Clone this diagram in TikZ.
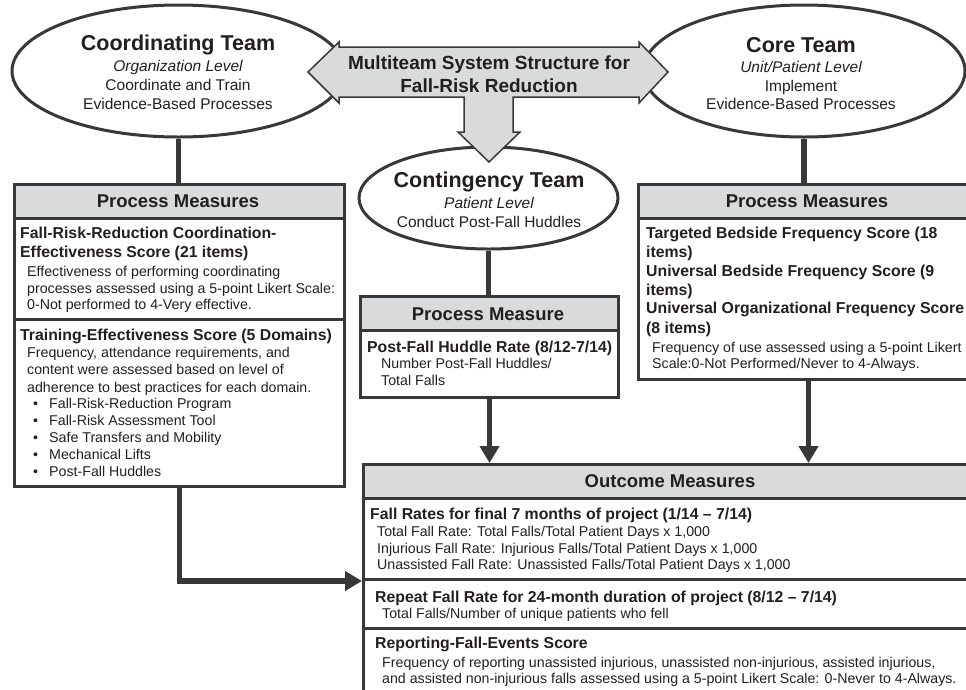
\documentclass[tikz,border=0pt]{standalone}
\usepackage{fontspec}
\setmainfont{Liberation Sans}
\usetikzlibrary{shapes.geometric,arrows.meta}
\definecolor{ink}{HTML}{231F20}
\definecolor{edge}{HTML}{38383A}
\definecolor{shade}{HTML}{D9DADB}
\tikzset{
  team/.style={draw=edge, line width=3pt, ellipse, inner sep=0pt, fill=white},
  hdrbox/.style={draw=edge, line width=3pt, fill=shade, rectangle, inner sep=0pt, anchor=north west},
  secbox/.style={draw=edge, line width=3pt, fill=white, rectangle, inner sep=0pt, anchor=north west},
  ttl/.style={font=\fontsize{21.5}{24}\selectfont\bfseries, text=ink, anchor=base, inner sep=0pt},
  sub/.style={font=\fontsize{15.5}{18}\selectfont, text=ink, anchor=base, inner sep=0pt},
  subit/.style={font=\fontsize{15.5}{18}\selectfont\itshape, text=ink, anchor=base, inner sep=0pt},
  bigtxt/.style={font=\fontsize{19}{22}\selectfont\bfseries, text=ink, anchor=base, inner sep=0pt},
  hdr/.style={font=\fontsize{18.5}{22}\selectfont\bfseries, text=ink, anchor=base, inner sep=0pt},
  head/.style={font=\fontsize{15.8}{18}\selectfont\bfseries, text=ink, anchor=base west, inner sep=0pt},
  body/.style={font=\fontsize{14.2}{17}\selectfont, text=ink, anchor=base west, inner sep=0pt},
  link/.style={draw=edge, line width=5.5pt},
  arr/.style={link, -{Triangle[length=17pt,width=19pt]}},
}
\begin{document}
\begin{tikzpicture}[x=1pt,y=-1pt]
\useasboundingbox (0,0) rectangle (966,689);
\clip (0,0) rectangle (966,689);

% team ellipses
\node[team, minimum width=333pt, minimum height=132pt] (coord) at (178.5,71) {};
\node[team, minimum width=322pt, minimum height=132pt] (core) at (804,71) {};
\node[team, minimum width=259pt, minimum height=102pt] (cont) at (488.5,198) {};

% central arrow shape
\draw[draw=edge, line width=1.5pt, fill=shade, line join=miter]
  (308,72) -- (339,42) -- (339,47) -- (639,47) -- (639,42) -- (668,72)
  -- (639,103) -- (639,97) -- (513,97) -- (513,132) -- (520,132)
  -- (489,162) -- (458,132) -- (464,132) -- (464,97) -- (339,97)
  -- (339,103) -- cycle;
\node[bigtxt] (mts1) at (489,69) {Multiteam System Structure for};
\node[bigtxt] (mts2) at (489,92) {Fall-Risk Reduction};

% team texts
\node[ttl] (c1) at (178,50) {Coordinating Team};
\node[subit] (c2) at (178,71) {Organization Level};
\node[sub] (c3) at (178,90) {Coordinate and Train};
\node[sub] (c4) at (178,109) {Evidence-Based Processes};

\node[ttl] (k1) at (801,52) {Core Team};
\node[subit] (k2) at (801,72) {Unit/Patient Level};
\node[sub] (k3) at (801,91) {Implement};
\node[sub] (k4) at (801,109) {Evidence-Based Processes};

\node[ttl] (g1) at (489,187) {Contingency Team};
\node[subit] (g2) at (489,208) {Patient Level};
\node[sub] (g3) at (489,227) {Conduct Post-Fall Huddles};

% left box
\node[hdrbox, minimum width=330pt, minimum height=34pt] (lhdr) at (13,183) {};
\node[secbox, minimum width=330pt, minimum height=101pt] (ls1) at (13,217) {};
\node[secbox, minimum width=330pt, minimum height=167pt] (ls2) at (13,318) {};
\node[hdr] (lh) at (178,207) {Process Measures};
\node[head] (la1) at (20,238) {Fall-Risk-Reduction Coordination-};
\node[head] (la2) at (20,257) {Effectiveness Score (21 items)};
\node[body] (la3) at (27,276) {Effectiveness of performing coordinating};
\node[body] (la4) at (27,293) {processes assessed using a 5-point Likert Scale:};
\node[body] (la5) at (27,309) {0-Not performed to 4-Very effective.};
\node[head] (lb1) at (20,340) {Training-Effectiveness Score (5 Domains)};
\node[body] (lb2) at (27,357) {Frequency, attendance requirements, and};
\node[body] (lb3) at (27,374) {content were assessed based on level of};
\node[body] (lb4) at (27,392) {adherence to best practices for each domain.};
\node[body] (bu1) at (33,408) {•}; \node[body] (lb5) at (49,408) {Fall-Risk-Reduction Program};
\node[body] (bu2) at (33,425) {•}; \node[body] (lb6) at (49,425) {Fall-Risk Assessment Tool};
\node[body] (bu3) at (33,442) {•}; \node[body] (lb7) at (49,442) {Safe Transfers and Mobility};
\node[body] (bu4) at (33,459) {•}; \node[body] (lb8) at (49,459) {Mechanical Lifts};
\node[body] (bu5) at (33,476) {•}; \node[body] (lb9) at (49,476) {Post-Fall Huddles};

% middle box
\node[hdrbox, minimum width=258pt, minimum height=34pt] (mhdr) at (359,295) {};
\node[secbox, minimum width=258pt, minimum height=67pt] (ms1) at (359,329) {};
\node[hdr] (mh) at (488,320) {Process Measure};
\node[head] (ma1) at (367,352) {Post-Fall Huddle Rate (8/12-7/14)};
\node[body] (ma2) at (381,368) {Number Post-Fall Huddles/};
\node[body] (ma3) at (381,385) {Total Falls};

% right box
\node[hdrbox, minimum width=340pt, minimum height=34pt] (rhdr) at (637,183) {};
\node[secbox, minimum width=340pt, minimum height=161pt] (rs1) at (637,217) {};
\node[hdr] (rh) at (807,207) {Process Measures};
\node[head] (ra1) at (646,238) {Targeted Bedside Frequency Score (18};
\node[head] (ra2) at (646,257) {items)};
\node[head] (ra3) at (646,276) {Universal Bedside Frequency Score (9};
\node[head] (ra4) at (646,295) {items)};
\node[head] (ra5) at (646,313) {Universal Organizational Frequency Score};
\node[head] (ra6) at (646,333) {(8 items)};
\node[body] (ra7) at (652,352) {Frequency of use assessed using a 5-point Likert};
\node[body] (ra8) at (652,368) {Scale:0-Not Performed/Never to 4-Always.};

% outcome box
\node[hdrbox, minimum width=616pt, minimum height=34pt] (ohdr) at (362,463) {};
\node[secbox, minimum width=616pt, minimum height=81pt] (os1) at (362,497) {};
\node[secbox, minimum width=616pt, minimum height=49pt] (os2) at (362,578) {};
\node[secbox, minimum width=616pt, minimum height=80pt] (os3) at (362,627) {};
\node[hdr] (oh) at (670,487) {Outcome Measures};
\node[head] (oa1) at (370,519) {Fall Rates for final 7 months of project (1/14 – 7/14)};
\node[body] (oa2) at (377,536) {Total Fall Rate: Total Falls/Total Patient Days x 1,000};
\node[body] (oa3) at (377,553) {Injurious Fall Rate: Injurious Falls/Total Patient Days x 1,000};
\node[body] (oa4) at (377,569) {Unassisted Fall Rate: Unassisted Falls/Total Patient Days x 1,000};
\node[head] (ob1) at (375,602) {Repeat Fall Rate for 24-month duration of project (8/12 – 7/14)};
\node[body] (ob2) at (382,618) {Total Falls/Number of unique patients who fell};
\node[head] (oc1) at (375,648) {Reporting-Fall-Events Score};
\node[body] (oc2) at (382,667) {Frequency of reporting unassisted injurious, unassisted non-injurious, assisted injurious,};
\node[body] (oc3) at (382,683) {and assisted non-injurious falls assessed using a 5-point Likert Scale: 0-Never to 4-Always.};

% connectors
\draw[link] (coord.south) -- (coord.south |- lhdr.north);
\draw[link] (core.south) -- (core.south |- rhdr.north);
\draw[link] (cont.south) -- (cont.south |- mhdr.north);
\draw[arr] (ls2.south) |- (os1.south west);
\draw[arr] (ms1.south) -- (ms1.south |- ohdr.north);
\draw[arr] (rs1.south) -- (rs1.south |- ohdr.north);
\end{tikzpicture}
\end{document}
